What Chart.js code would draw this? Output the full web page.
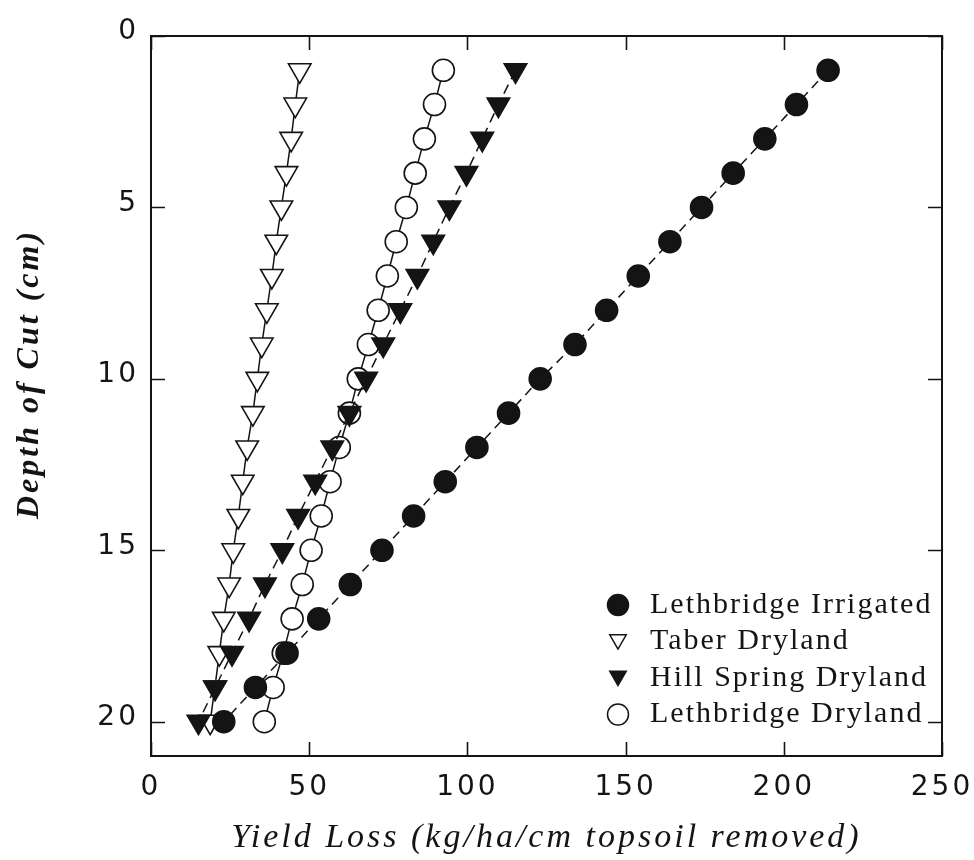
<!DOCTYPE html>
<html>
<head>
<meta charset="utf-8">
<script src="https://cdn.jsdelivr.net/npm/chart.js@4.4.1/dist/chart.umd.min.js"></script>
<style>
  html, body { margin: 0; padding: 0; background: #fff; }
</style>
</head>
<body>
<canvas id="chartYield" width="974" height="860"></canvas>
<script>
/* Yield loss per cm of topsoil removed vs depth of cut */

const DEPTH = [1, 2, 3, 4, 5, 6, 7, 8, 9, 10, 11, 12, 13, 14, 15, 16, 17, 18, 19, 20];

const LETH_IRRIGATED = [214, 204, 194, 184, 174, 164, 154, 144, 134, 123, 113, 103, 93, 83, 73, 63, 53, 43, 33, 23];
const TABER_DRYLAND  = [47, 45.6, 44.3, 42.8, 41.2, 39.6, 38.2, 36.6, 35, 33.6, 32.2, 30.4, 29, 27.6, 26, 24.7, 23, 21.6, 20.2, 18.7];
const HILL_SPRING    = [115.2, 109.8, 104.7, 99.7, 94.3, 89.2, 84.2, 78.8, 73.4, 68, 62.7, 57.3, 51.9, 46.5, 41.5, 36, 31, 25.6, 20.3, 15];
const LETH_DRYLAND   = [92.4, 89.6, 86.4, 83.5, 80.7, 77.5, 74.7, 71.8, 68.7, 65.5, 62.7, 59.5, 56.6, 53.8, 50.6, 47.8, 44.6, 41.8, 38.6, 35.8];

const SERIES_LABELS = ['Lethbridge Irrigated', 'Taber Dryland', 'Hill Spring Dryland', 'Lethbridge Dryland'];

const X_TICKS = [0, 50, 100, 150, 200, 250];
const Y_TICKS = [0, 5, 10, 15, 20];

const X_TITLE = 'Yield Loss (kg/ha/cm topsoil removed)';
const Y_TITLE = 'Depth of Cut (cm)';

(function () {
  'use strict';

  const INK = '#141414';
  const WHITE = '#ffffff';
  const SERIF = "'Liberation Serif', 'Times New Roman', serif";
  const SANS = "'DejaVu Sans', sans-serif";
  const TICK = 14;

  function pts(values) {
    return DEPTH.map((d, i) => ({ x: values[i], y: d }));
  }

  const datasets = [
    { label: SERIES_LABELS[0], data: pts(LETH_IRRIGATED), pointStyle: 'circle', pointRadius: 11, rotation: 0,
      backgroundColor: INK, borderDash: [9, 6], order: 1 },
    { label: SERIES_LABELS[1], data: pts(TABER_DRYLAND), pointStyle: 'triangle', pointRadius: 13, rotation: 180,
      backgroundColor: WHITE, borderDash: [], order: 3 },
    { label: SERIES_LABELS[2], data: pts(HILL_SPRING), pointStyle: 'triangle', pointRadius: 13, rotation: 180,
      backgroundColor: INK, borderDash: [10, 6], order: 2 },
    { label: SERIES_LABELS[3], data: pts(LETH_DRYLAND), pointStyle: 'circle', pointRadius: 11, rotation: 0,
      backgroundColor: WHITE, borderDash: [], order: 4 },
  ].map((d) => ({
    ...d,
    showLine: true,
    tension: 0,
    borderColor: INK,
    borderWidth: 1.5,
    pointBackgroundColor: d.backgroundColor,
    pointBorderColor: INK,
    pointBorderWidth: 1.6,
    pointHoverRadius: d.pointRadius,
  }));

  /* the scanned figure has wide, spaced lettering */
  const spacingPlugin = {
    id: 'spacing',
    beforeDraw(chart) { chart.ctx.letterSpacing = '3px'; },
    afterDraw(chart) { chart.ctx.letterSpacing = '0px'; },
  };

  /* frame on all four sides with inward ticks */
  const framePlugin = {
    id: 'frame',
    afterDraw(chart) {
      const { ctx, chartArea: a, scales: { x, y } } = chart;
      ctx.save();
      ctx.strokeStyle = INK;
      ctx.lineWidth = 2;
      ctx.strokeRect(a.left, a.top, a.right - a.left, a.bottom - a.top);
      ctx.lineWidth = 1.6;
      ctx.beginPath();
      x.ticks.forEach((t) => {
        const px = Math.round(x.getPixelForValue(t.value)) + 0.5;
        ctx.moveTo(px, a.bottom); ctx.lineTo(px, a.bottom - TICK);
        ctx.moveTo(px, a.top); ctx.lineTo(px, a.top + TICK);
      });
      y.ticks.forEach((t) => {
        const py = Math.round(y.getPixelForValue(t.value)) + 0.5;
        ctx.moveTo(a.left, py); ctx.lineTo(a.left + TICK, py);
        ctx.moveTo(a.right, py); ctx.lineTo(a.right - TICK, py);
      });
      ctx.stroke();
      ctx.restore();
    },
  };

  /* legend in the lower-right of the plot */
  const legendPlugin = {
    id: 'innerLegend',
    afterDraw(chart) {
      const { ctx, chartArea: a } = chart;
      const markX = a.left + 467;
      const textX = a.left + 499;
      const top = a.top + 569;
      const step = 36.5;
      ctx.save();
      ctx.letterSpacing = '2px';
      ctx.font = '30px ' + SERIF;
      ctx.textBaseline = 'middle';
      ctx.textAlign = 'left';
      chart.data.datasets.forEach((ds, i) => {
        const yy = top + i * step;
        ctx.fillStyle = ds.pointBackgroundColor;
        ctx.strokeStyle = INK;
        ctx.lineWidth = 1.5;
        const tri = ds.pointStyle === 'triangle';
        Chart.helpers.drawPoint(ctx, {
          pointStyle: ds.pointStyle, radius: tri ? 9.5 : 10.5, rotation: ds.rotation, borderWidth: 1.5,
        }, markX, yy + (tri ? -2 : 0));
        ctx.fillStyle = INK;
        ctx.fillText(ds.label, textX, yy);
      });
      ctx.restore();
    },
  };

  new Chart(document.getElementById('chartYield'), {
    type: 'scatter',
    data: { datasets },
    options: {
      responsive: false,
      animation: false,
      events: [],
      layout: { padding: { left: 0, top: 36, right: 32, bottom: 0 } },
      plugins: { legend: { display: false }, tooltip: { enabled: false } },
      scales: {
        x: {
          type: 'linear',
          min: 0,
          max: 250,
          afterBuildTicks: (s) => { s.ticks = X_TICKS.map((v) => ({ value: v })); },
          afterFit: (s) => { s.height = 104; s.paddingLeft = 0; s.paddingRight = 0; },
          grid: { display: false, drawTicks: false },
          border: { display: false },
          ticks: { color: INK, font: { family: SANS, size: 28 }, padding: 15, maxRotation: 0, autoSkip: false },
          title: {
            display: true, text: X_TITLE, color: INK,
            font: { family: SERIF, size: 34, style: 'italic', lineHeight: 1.2 },
            padding: { top: 0, bottom: 2 },
          },
        },
        y: {
          type: 'linear',
          reverse: true,
          min: 0,
          max: 21,
          afterBuildTicks: (s) => { s.ticks = Y_TICKS.map((v) => ({ value: v })); },
          afterFit: (s) => { s.width = 151; s.paddingTop = 0; s.paddingBottom = 0; },
          grid: { display: false, drawTicks: false },
          border: { display: false },
          ticks: { color: INK, font: { family: SANS, size: 28 }, padding: 12, labelOffset: -4, autoSkip: false },
          title: {
            /* leading spaces nudge the rotated title up, as in the figure */
            display: true, text: '\u00a0\u00a0\u00a0\u00a0' + Y_TITLE, color: INK,
            font: { family: SERIF, size: 32, style: 'italic', weight: 'bold', lineHeight: 1.2 },
            padding: { top: 11, bottom: 0 },
          },
        },
      },
    },
    plugins: [spacingPlugin, framePlugin, legendPlugin],
  });
})();
</script>
</body>
</html>
